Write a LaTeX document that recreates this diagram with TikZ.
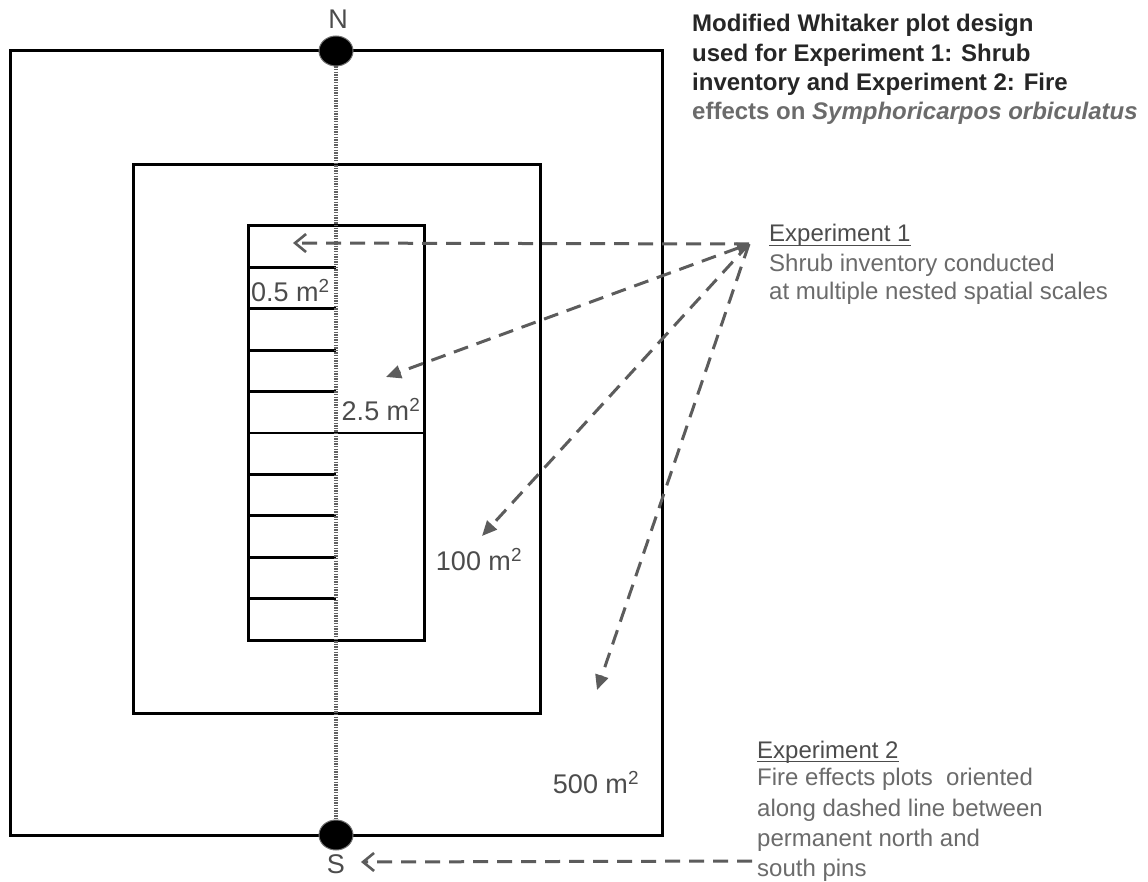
\documentclass[tikz,border=0pt]{standalone}
\usepackage{fontspec}
\setmainfont{Liberation Sans}
\usetikzlibrary{shapes.geometric,arrows.meta}
\definecolor{inkdark}{gray}{0.15}
\definecolor{inkmid}{gray}{0.30}
\definecolor{inklight}{gray}{0.42}
\definecolor{dashcol}{gray}{0.36}
\begin{document}
\begin{tikzpicture}[x=1pt,y=-1pt,
  frame/.style={draw=black, line width=3pt},
  cellline/.style={draw=black, line width=2.8pt},
  axisline/.style={draw=black!62, line width=3.4pt, dash pattern=on 1.4pt off 1.2pt},
  pin/.style={ellipse, fill=black, draw=black!55, line width=1pt, minimum width=34pt, minimum height=30pt, inner sep=0pt},
  dasharrow/.style={draw=dashcol, line width=3pt, dash pattern=on 15pt off 9pt},
  headopen/.style={-{Straight Barb[length=11pt,width=18pt,line width=2.6pt]}},
  headfill/.style={-{Triangle[length=15pt,width=13pt]}},
  titletext/.style={font=\fontsize{24}{29}\selectfont\bfseries, anchor=base west, inner sep=0pt},
  bodytext/.style={font=\fontsize{24}{29}\selectfont, anchor=base west, inner sep=0pt, text=inklight},
  headtext/.style={font=\fontsize{24}{29}\selectfont, anchor=base west, inner sep=0pt, text=inkmid},
  labeltext/.style={font=\fontsize{27}{30}\selectfont, inner sep=0pt, text=inkmid},
  pinlabel/.style={font=\fontsize{27}{30}\selectfont, inner sep=0pt, text=inkmid},
  uline/.style={draw=inkmid, line width=1.8pt}
]
\useasboundingbox (0,0) rectangle (1148,882);
\fill[white] (0,0) rectangle (1148,882);

% rectangles
\draw[frame] (10,51) rectangle (662,835);
\draw[frame] (133,165) rectangle (540,713);
\draw[frame] (248,226) rectangle (424,640);

% cells of the inner rectangle
\foreach \yy in {267.4,308.8,350.2,391.6,474.4,515.8,557.2,598.6}
  \draw[cellline] (248,\yy) -- (336,\yy);
\draw[cellline] (248,433) -- (424,433);

% pins and the N-S line
\node[pin] (pinN) at (336,51) {};
\node[pin] (pinS) at (336,835) {};
\draw[axisline] (pinN.south) -- (pinS.north);
\node[pinlabel] (labN) at (338,19) {N};
\node[pinlabel] (labS) at (336,864) {S};

% area labels
\node[labeltext, anchor=west] (a05) at (251,291) {0.5 m\textsuperscript{2}};
\node[labeltext] (a25) at (381,410) {2.5 m\textsuperscript{2}};
\node[labeltext] (a100) at (479,560) {100 m\textsuperscript{2}};
\node[labeltext] (a500) at (596,783) {500 m\textsuperscript{2}};

% title
\node[titletext, text=inkdark] (t1) at (692,32) {Modified Whitaker plot design};
\node[titletext, text=inkdark] (t2) at (692,61.3) {used for Experiment 1: Shrub};
\node[titletext, text=inkdark] (t3) at (692,90.6) {inventory and Experiment 2: Fire};
\node[titletext, text=inklight] (t4) at (692,120) {effects on \textit{Symphoricarpos orbiculatus}};

% experiment 1
\node[headtext] (e1) at (769,242) {Experiment 1};
\draw[uline] ([yshift=-3.5pt]e1.base west) -- ([yshift=-3.5pt]e1.base east);
\node[bodytext] (e1a) at (769,272) {Shrub inventory conducted};
\node[bodytext] (e1b) at (769,300) {at multiple nested spatial scales};

% experiment 2
\node[headtext] (e2) at (757,758) {Experiment 2};
\draw[uline] ([yshift=-3.5pt]e2.base west) -- ([yshift=-3.5pt]e2.base east);
\node[bodytext] (e2a) at (757,785) {Fire effects plots~ oriented};
\node[bodytext] (e2b) at (757,816) {along dashed line between};
\node[bodytext] (e2c) at (757,846) {permanent north and};
\node[bodytext] (e2d) at (757,876) {south pins};

% arrows of experiment 1
\coordinate (src) at (749,244);
\coordinate (tip05) at (293,243);
\coordinate (tip25) at (386,377);
\coordinate (tip100) at (482,536);
\coordinate (tip500) at (597,690);
\draw[dasharrow, headopen] (src) -- (tip05);
\draw[dasharrow, {Triangle[length=12pt,width=11pt]}-{Triangle[length=15pt,width=13pt]}] (src) -- (tip25);
\draw[dasharrow, headfill] (src) -- (tip100);
\draw[dasharrow, headfill] (src) -- (tip500);

% arrow of experiment 2
\coordinate (src2) at (752,861);
\coordinate (tipS) at (361,862);
\draw[dasharrow, headopen] (src2) -- (tipS);
\end{tikzpicture}
\end{document}
